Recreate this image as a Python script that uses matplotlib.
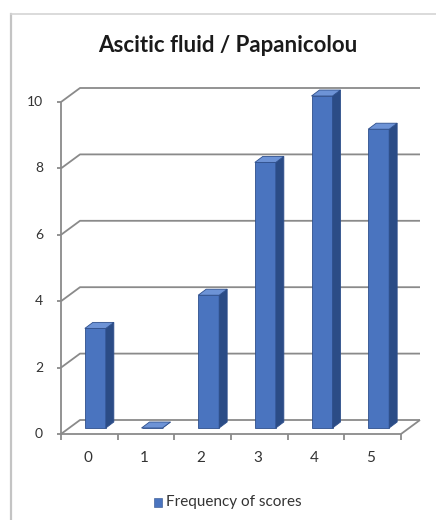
import matplotlib
matplotlib.use("Agg")
import matplotlib.pyplot as plt
from matplotlib.patches import Polygon, Rectangle
from matplotlib.lines import Line2D

plt.rcParams['font.family'] = ['Lato', 'DejaVu Sans']

# Data
scores = [0, 1, 2, 3, 4, 5]
frequency = [3, 0, 4, 8, 10, 9]
y_ticks = [0, 2, 4, 6, 8, 10]
title = "Ascitic fluid / Papanicolou"
series_name = "Frequency of scores"

W, H = 436, 520
fig = plt.figure(figsize=(W / 100, H / 100), dpi=100)
fig.patch.set_facecolor("white")

# Chart-area frame (left and top edges visible)
fig.add_artist(Line2D([11 / W, 11 / W], [0, 1 - 14 / H], transform=fig.transFigure,
                      color="#c4c4c4", lw=1.6))
fig.add_artist(Line2D([11 / W, 1], [1 - 14 / H, 1 - 14 / H], transform=fig.transFigure,
                      color="#d4d4d4", lw=1.2))

# Plot area: front plane in data coordinates
x0, x1 = 61, 401
y0, y1 = 434, 102
ax = fig.add_axes([x0 / W, 1 - y0 / H, (x1 - x0) / W, (y0 - y1) / H])
ax.set_xlim(-0.5, 5.5)
ax.set_ylim(0, 10)
ax.axis("off")

ux = (x1 - x0) / 6      # pixels per category
uy = (y0 - y1) / 10     # pixels per value unit

# Oblique depth offset (data units)
DX = 19 / ux
DY = 14 / uy

grid_c = "#8a8a8a"
kw = dict(color=grid_c, lw=1.3, clip_on=False, solid_capstyle="butt")

# Back wall gridlines with diagonals to the front axis
for v in y_ticks:
    ax.plot([-0.5, -0.5 + DX, 5.5 + DX], [v, v + DY, v + DY], **kw)

# Floor
ax.plot([-0.5, 5.5, 5.5 + DX], [0, 0, DY], **kw)
# Front vertical axis
ax.plot([-0.5, -0.5], [0, 10], **kw)

# Tick marks and labels
for v in y_ticks:
    ax.plot([-0.5 - 4 / ux, -0.5], [v, v], **kw)
    ax.text(-0.5 - 18 / ux, v, str(v), ha="right", va="center",
            fontsize=10, color="#333333")
for b in [x - 0.5 for x in scores] + [5.5]:
    ax.plot([b, b], [0, -6 / uy], **kw)
for s in scores:
    ax.text(s - 0.03, -24 / uy, str(s), ha="center", va="center",
            fontsize=11, color="#333333")

# 3D-style bars
front_c = "#4a74bf"
side_c = "#2b4c86"
top_c = "#6d93d6"
edge_c = "#2e4f8c"
w = 21 / ux
fx = 6 / ux     # horizontal shift of the bar front face from the category centre
fy = 6 / uy     # vertical lift of the bar front face above the floor edge
dx = 8 / ux     # bar depth, horizontal
dy = 6 / uy     # bar depth, vertical
for s, v in zip(scores, frequency):
    cx = s + fx
    b = fy
    xl, xr = cx - w / 2, cx + w / 2
    ax.add_patch(Rectangle((xl, b), w, v, facecolor=front_c, edgecolor=edge_c,
                           lw=0.6, clip_on=False, zorder=3))
    ax.add_patch(Polygon([(xr, b), (xr + dx, b + dy),
                          (xr + dx, b + v + dy), (xr, b + v)],
                         closed=True, facecolor=side_c, edgecolor=edge_c,
                         lw=0.6, clip_on=False, zorder=3))
    ax.add_patch(Polygon([(xl, b + v), (xr, b + v), (xr + dx, b + v + dy),
                          (xl + dx, b + v + dy)],
                         closed=True, facecolor=top_c, edgecolor=edge_c,
                         lw=0.6, clip_on=False, zorder=4))

# Title
fig.text(228 / W, 1 - 45 / H, title, ha="center", va="center",
         fontsize=16, fontweight="bold", color="#1a1a1a")

# Legend
fig.add_artist(Rectangle((154 / W, 1 - 507 / H), 8 / W, 9 / H,
                         transform=fig.transFigure, facecolor=front_c,
                         edgecolor=edge_c, lw=0.4))
fig.text(166 / W, 1 - 502 / H, series_name, ha="left", va="center",
         fontsize=11, color="#333333")

fig.savefig("out.png", dpi=100, facecolor="white")
